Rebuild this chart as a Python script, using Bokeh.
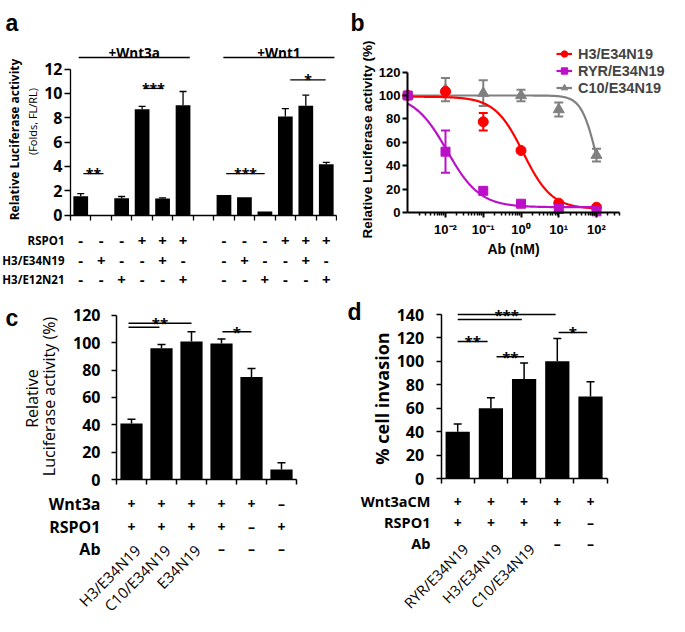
import numpy as np
from bokeh.plotting import figure
from bokeh.layouts import column, row
from bokeh.models import (Range1d, FixedTicker, Whisker, TeeHead, ColumnDataSource,
                          Legend, LegendItem, CustomJSTickFormatter)
from bokeh.core.properties import value
from bokeh.embed import file_html
from bokeh.resources import INLINE

# ---------------- panel a data ----------------
a_ncat = 13
a_slots = [0, 1, 2, 3, 4, 5, 7, 8, 9, 10, 11, 12]
a_values = [1.55, 0.0, 1.38, 8.7, 1.35, 9.02, 1.65, 1.45, 0.28, 8.1, 8.97, 4.18]
a_errors = [0.2, 0.0, 0.14, 0.22, 0.06, 1.13, 0.0, 0.0, 0.0, 0.65, 0.88, 0.15]
a_row_labels = ["RSPO1", "H3/E34N19", "H3/E12N21"]
a_rspo1 = ["-", "-", "-", "+", "+", "+", "-", "-", "-", "+", "+", "+"]
a_h3e34 = ["-", "+", "-", "-", "+", "-", "-", "+", "-", "-", "+", "-"]
a_h3e12 = ["-", "-", "+", "-", "-", "+", "-", "-", "+", "-", "-", "+"]
a_groups = ["+Wnt3a", "+Wnt1"]
a_group_from = [-0.1, 6.97]
a_group_to = [5.33, 12.4]
a_sig_from = [0.13, 3.07, 7.11, 10.24]
a_sig_to = [1.11, 4.03, 8.99, 11.97]
a_sig_y = [3.4, 10.4, 3.4, 11.1]
a_sig_text = ["**", "***", "***", "*"]
a_yticks = [0, 2, 4, 6, 8, 10, 12]

# ---------------- panel b data ----------------
b_dose = [0.001, 0.01, 0.1, 1, 10, 100]
b_series = ["H3/E34N19", "RYR/E34N19", "C10/E34N19"]
b_h3 = [100, 103.5, 77.5, 53, 8, 4.5]
b_h3_err = [0, 2, 7.5, 1.5, 1.5, 1.5]
b_ryr = [100, 52, 18.5, 7.5, 3, 1]
b_ryr_err = [0, 18, 2, 1, 1.5, 1]
b_c10 = [100, 105, 102, 100, 88, 49]
b_c10_err = [0, 10, 11, 5, 6, 5.5]
# dose-response fit parameters: top, bottom, IC50 (nM), Hill slope
b_fit_top = [99, 101, 100]
b_fit_bottom = [3, 4.5, 0]
b_fit_ic50 = [1.15, 0.011, 97]
b_fit_hill = [1.15, 1.0, 2.2]
b_xtick_vals = [0.01, 0.1, 1, 10, 100]
b_xtick_labels = ["10\u207b\u00b2", "10\u207b\u00b9", "10\u2070", "10\u00b9", "10\u00b2"]
b_yticks = [0, 20, 40, 60, 80, 100, 120]

# ---------------- panel c data ----------------
c_values = [41, 96, 101, 99.5, 75, 7.3]
c_errors = [3, 2.7, 7, 3.3, 6.2, 5]
c_row_labels = ["Wnt3a", "RSPO1", "Ab"]
c_wnt3a = ["+", "+", "+", "+", "+", "\u2013"]
c_rspo1 = ["+", "+", "+", "+", "\u2013", "+"]
c_ab = ["H3/E34N19", "C10/E34N19", "E34N19", "\u2013", "\u2013", "\u2013"]
c_sig_from = [-0.1, -0.1, 3.03]
c_sig_to = [0.93, 2.0, 4.0]
c_sig_y = [111.4, 114.3, 108]
c_sig_text = ["", "**", "*"]
c_yticks = [0, 20, 40, 60, 80, 100, 120]

# ---------------- panel d data ----------------
d_values = [40, 60, 85, 100, 70]
d_errors = [6.5, 9, 13.5, 19.5, 12.5]
d_row_labels = ["Wnt3aCM", "RSPO1", "Ab"]
d_wnt3acm = ["+", "+", "+", "+", "+"]
d_rspo1 = ["+", "+", "+", "+", "\u2013"]
d_ab = ["RYR/E34N19", "H3/E34N19", "C10/E34N19", "\u2013", "\u2013"]
d_sig_from = [0.0, 0.0, 0.0, 1.17, 3.04]
d_sig_to = [2.95, 1.93, 0.9, 2.0, 3.9]
d_sig_y = [140, 135.8, 117, 104, 124.7]
d_sig_text = ["***", "", "**", "**", "*"]
d_yticks = [0, 20, 40, 60, 80, 100, 120, 140]

FK = "Open Sans"
FB = "Liberation Sans"


def lin(p1, v1, p2, v2):
    k = (v2 - v1) / (p2 - p1)
    return lambda px: v1 + (px - p1) * k


def make_fig(w, h, xr, yr, x_axis_type="linear"):
    p = figure(width=w, height=h, x_range=Range1d(*xr), y_range=Range1d(*yr),
               x_axis_type=x_axis_type, toolbar_location=None, output_backend="svg",
               min_border=0, title=None, tools="")
    p.outline_line_color = None
    p.xgrid.visible = False
    p.ygrid.visible = False
    return p


def style_axis(ax, font, size, lw, loc, bounds, ticks, tick_out, standoff, labels=True):
    ax.fixed_location = loc
    ax.bounds = bounds
    ax.ticker = FixedTicker(ticks=ticks)
    ax.axis_line_width = lw
    ax.axis_line_color = "black"
    ax.major_tick_line_width = lw
    ax.major_tick_line_color = "black"
    ax.major_tick_in = 0
    ax.major_tick_out = tick_out
    ax.minor_tick_line_color = None
    ax.major_label_standoff = standoff
    ax.major_label_text_font = font
    ax.major_label_text_font_style = "bold"
    ax.major_label_text_font_size = size
    ax.major_label_text_color = "black"
    if not labels:
        ax.formatter = CustomJSTickFormatter(code="return ''")


def put_text(p, xs, ys, texts, size, font, style="bold", align="center",
             baseline="middle", angle=0.0, color="black"):
    src = ColumnDataSource(dict(x=list(xs), y=list(ys), t=list(texts)))
    p.text(x="x", y="y", text="t", source=src, text_font=value(font),
           text_font_size=size, text_font_style=style, text_align=align,
           text_baseline=baseline, angle=angle, text_color=color)


def add_errors(p, xs, tops, errs, color, lw, cap, both=False):
    keep = [i for i, e in enumerate(errs) if e > 0]
    src = ColumnDataSource(dict(
        base=[xs[i] for i in keep],
        upper=[tops[i] + errs[i] for i in keep],
        lower=[(tops[i] - errs[i]) if both else tops[i] for i in keep]))
    w = Whisker(base="base", upper="upper", lower="lower", source=src, dimension="height",
                line_color=color, line_width=lw,
                upper_head=TeeHead(size=cap, line_color=color, line_width=lw),
                lower_head=TeeHead(size=cap, line_color=color, line_width=lw) if both else None)
    p.add_layout(w)


def add_brackets(p, x0, x1, ys, texts, lw, size, font):
    p.segment(x0=x0, y0=ys, x1=x1, y1=ys, line_color="black", line_width=lw)
    idx = [i for i, t in enumerate(texts) if t]
    put_text(p, [(x0[i] + x1[i]) / 2 for i in idx], [ys[i] for i in idx],
             [texts[i] for i in idx], size, font, style="bold", baseline="alphabetic")


A_W, A_H = 337, 294
B_W, B_H = 331, 294
C_W, C_H = 337, 321
D_W, D_H = 331, 321

# ======================= panel a =======================
fxa = lin(70, -0.5, 336, a_ncat - 0.5)
fya = lin(214.5, 0, 68.5, 12)
pa = make_fig(A_W, A_H, (fxa(0), fxa(A_W)), (fya(A_H), fya(0)))
pa.vbar(x=a_slots, top=a_values, width=0.72, fill_color="black", line_color=None)
add_errors(pa, a_slots, a_values, a_errors, "black", 1.3, 7)
style_axis(pa.yaxis[0], FK, "16px", 1.3, -0.5, (0, 12), a_yticks, 6, 2)
style_axis(pa.xaxis[0], FK, "16px", 1.3, 0, (-0.5, a_ncat - 0.5),
           [k - 0.5 for k in range(a_ncat + 1)], 5, 2, labels=False)
add_brackets(pa, a_sig_from, a_sig_to, a_sig_y, a_sig_text, 1.3, "14px", FK)
pa.segment(x0=a_group_from, y0=[fya(57)] * 2, x1=a_group_to, y1=[fya(57)] * 2,
           line_color="black", line_width=1.3)
put_text(pa, [(f + t) / 2 for f, t in zip(a_group_from, a_group_to)], [fya(52)] * 2,
         a_groups, "13.5px", FK, baseline="alphabetic")
put_text(pa, [fxa(14)], [fya(139)], ["Relative Luciferase activity"], "12px", FK,
         angle=np.pi / 2)
put_text(pa, [fxa(32)], [fya(121)], ["(Folds, FL/RL)"], "11px", FK, style="normal",
         angle=np.pi / 2)
for rows_vals, ypx in zip([a_rspo1, a_h3e34, a_h3e12], [240, 260, 279]):
    put_text(pa, a_slots, [fya(ypx)] * len(a_slots), rows_vals, "15px", FK)
put_text(pa, [fxa(64)] * 3, [fya(240), fya(260), fya(279)], a_row_labels, "11.5px", FK,
         align="right")
put_text(pa, [fxa(5)], [fya(22)], ["a"], "23px", FB, align="left", baseline="alphabetic")

# ======================= panel b =======================
fxb = lin(108, -2, 259, 2)      # pixel -> log10(dose)
fyb = lin(212, 0, 95, 100)
pb = make_fig(B_W, B_H, (10 ** fxb(0), 10 ** fxb(B_W)), (fyb(B_H), fyb(0)), x_axis_type="log")
colors = ["#FF0000", "#BB10C8", "#808080"]
markers = ["circle", "square", "triangle"]
msizes = [10, 9, 11]
vals = [b_h3, b_ryr, b_c10]
errs = [b_h3_err, b_ryr_err, b_c10_err]
xfit = np.logspace(np.log10(b_dose[0]), np.log10(b_dose[-1]), 300)
items = [None, None, None]
for i in [2, 0, 1]:
    yfit = b_fit_bottom[i] + (b_fit_top[i] - b_fit_bottom[i]) / (1 + (xfit / b_fit_ic50[i]) ** b_fit_hill[i])
    lr = pb.line(xfit, yfit, line_color=colors[i], line_width=2.2)
    add_errors(pb, b_dose, vals[i], errs[i], colors[i], 2, 9, both=True)
    sr = pb.scatter(b_dose, vals[i], marker=markers[i], size=msizes[i],
                    fill_color=colors[i], line_color=colors[i])
    items[i] = LegendItem(label=b_series[i], renderers=[lr, sr])
legend = Legend(items=items, location=(219, 198), label_text_font=FB,
                label_text_font_style="bold", label_text_font_size="14.5px",
                glyph_width=16, glyph_height=17, label_height=17, spacing=0, padding=0,
                margin=0, border_line_color=None, background_fill_alpha=0, label_standoff=6)
pb.add_layout(legend)
style_axis(pb.yaxis[0], FB, "13px", 2, 10 ** fxb(70), (0, 120), b_yticks, 5, 2)
xa = pb.xaxis[0]
style_axis(xa, FB, "13px", 2, 0, (10 ** fxb(70), 10 ** fxb(282)), b_xtick_vals, 5, 4)
minors = [k * 10.0 ** d for d in range(-3, 3) for k in range(2, 10) if k * 10.0 ** d <= 10 ** fxb(282)]
xa.ticker = FixedTicker(ticks=b_xtick_vals, minor_ticks=minors)
xa.minor_tick_line_color = "black"
xa.minor_tick_line_width = 1.5
xa.minor_tick_in = 0
xa.minor_tick_out = 3
xa.formatter = CustomJSTickFormatter(args=dict(labels=b_xtick_labels), code="return labels[index]")
put_text(pb, [10 ** fxb(30)], [fyb(139)], ["Relative Luciferase activity (%)"], "13.5px", FB,
         angle=np.pi / 2)
put_text(pb, [10 ** fxb(176)], [fyb(248)], ["Ab (nM)"], "14px", FB)
put_text(pb, [10 ** fxb(13)], [fyb(22)], ["b"], "23px", FB, align="left", baseline="alphabetic")

# ======================= panel c =======================
c_slots = list(range(len(c_values)))
fxc = lin(116, -0.5, 296, len(c_values) - 0.5)
fyc = lin(185, 0, 48.3, 100)
pc = make_fig(C_W, C_H, (fxc(0), fxc(C_W)), (fyc(C_H), fyc(0)))
pc.vbar(x=c_slots, top=c_values, width=0.74, fill_color="black", line_color=None)
add_errors(pc, c_slots, c_values, c_errors, "black", 1.5, 8)
style_axis(pc.yaxis[0], FK, "16px", 1.5, -0.5, (0, 120), c_yticks, 5, 11)
style_axis(pc.xaxis[0], FK, "16px", 1.5, 0, (-0.5, len(c_values) - 0.5),
           [k - 0.5 for k in range(len(c_values) + 1)], 5, 2, labels=False)
add_brackets(pc, c_sig_from, c_sig_to, c_sig_y, c_sig_text, 1.5, "15px", FK)
put_text(pc, [fxc(31)], [fyc(104)], ["Relative"], "16px", FK, style="normal", angle=np.pi / 2)
put_text(pc, [fxc(48)], [fyc(102)], ["Luciferase activity (%)"], "16px", FK, style="normal",
         angle=np.pi / 2)
c_rows_px = [209, 232, 254]
put_text(pc, [fxc(100)] * 3, [fyc(v) for v in c_rows_px], c_row_labels, "16px", FK, align="right")
for rows_vals, ypx in zip([c_wnt3a, c_rspo1], c_rows_px[:2]):
    put_text(pc, c_slots, [fyc(ypx)] * len(c_slots), rows_vals, "14px", FK)
sym = [i for i, t in enumerate(c_ab) if len(t) == 1]
rot = [i for i, t in enumerate(c_ab) if len(t) > 1]
put_text(pc, sym, [fyc(c_rows_px[2])] * len(sym), [c_ab[i] for i in sym], "14px", FK)
put_text(pc, [i + 0.2 for i in rot], [fyc(253)] * len(rot), [c_ab[i] for i in rot], "15px", FK,
         style="normal", align="right", angle=np.pi / 4)
put_text(pc, [fxc(5)], [fyc(23)], ["c"], "23px", FB, align="left", baseline="alphabetic")

# ======================= panel d =======================
d_slots = list(range(len(d_values)))
fxd = lin(103.6, -0.5, 269.6, len(d_values) - 0.5)
fyd = lin(184, 0, 20, 140)
pd_ = make_fig(D_W, D_H, (fxd(0), fxd(D_W)), (fyd(D_H), fyd(0)))
pd_.vbar(x=d_slots, top=d_values, width=0.73, fill_color="black", line_color=None)
add_errors(pd_, d_slots, d_values, d_errors, "black", 1.5, 8)
style_axis(pd_.yaxis[0], FK, "16px", 1.5, -0.5, (0, 140), d_yticks, 5, 12)
style_axis(pd_.xaxis[0], FK, "16px", 1.5, 0, (-0.5, len(d_values) - 0.5),
           [k - 0.5 for k in range(len(d_values) + 1)], 5, 2, labels=False)
add_brackets(pd_, d_sig_from, d_sig_to, d_sig_y, d_sig_text, 1.5, "15px", FK)
put_text(pd_, [fxd(44)], [fyd(104)], ["% cell invasion"], "18px", FK, angle=np.pi / 2)
d_rows_px = [207, 228, 249]
put_text(pd_, [fxd(93)] * 3, [fyd(v) for v in d_rows_px], d_row_labels, "14.5px", FK, align="right")
for rows_vals, ypx in zip([d_wnt3acm, d_rspo1], d_rows_px[:2]):
    put_text(pd_, d_slots, [fyd(ypx)] * len(d_slots), rows_vals, "14px", FK)
sym = [i for i, t in enumerate(d_ab) if len(t) == 1]
rot = [i for i, t in enumerate(d_ab) if len(t) > 1]
put_text(pd_, sym, [fyd(d_rows_px[2])] * len(sym), [d_ab[i] for i in sym], "14px", FK)
put_text(pd_, [i + 0.24 for i in rot], [fyd(252)] * len(rot), [d_ab[i] for i in rot], "14.5px", FK,
         style="normal", align="right", angle=np.pi / 4)
put_text(pd_, [fxd(10)], [fyd(17)], ["d"], "23px", FB, align="left", baseline="alphabetic")

layout = column(row(pa, pb), row(pc, pd_))
open("out.html", "w").write(file_html(layout, INLINE))
